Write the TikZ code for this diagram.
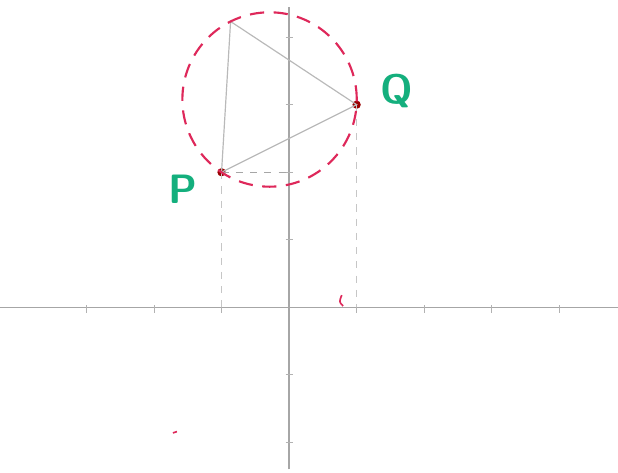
\documentclass[tikz,border=0pt]{standalone}
\usepackage{xcolor}
\usetikzlibrary{calc}

\definecolor{compassred}{RGB}{222,40,90}
\definecolor{labelgreen}{RGB}{20,175,125}

\tikzset{
  axisline/.style={gray!70, line width=0.6pt},
  pencil/.style={gray!55, line width=0.5pt},
  ptdot/.style={circle, fill=red!60!black, inner sep=0pt, minimum size=3.5pt},
  ptlabel/.style={font=\sffamily\bfseries\LARGE, text=labelgreen}
}

\begin{document}
\begin{tikzpicture}
\useasboundingbox (-4.28,-2.45) rectangle (4.87,4.55);

% Axes
\coordinate (O) at (0,0);
\draw[axisline] (-4.28,0) -- (4.87,0);
\draw[axisline] (0,-2.4) -- (0,4.45);
\foreach \x in {-3,-2,-1,1,2,3,4}
  \draw[gray!60] (\x,0.03) -- (\x,-0.09);
\foreach \y in {-2,-1,1,2,3,4}
  \draw[gray!60] (-0.05,\y) -- (0.06,\y);

% Points
\node[ptdot] (P) at (-1,2) {};
\node[ptdot] (Q) at (1,3) {};
\coordinate (R) at (-0.866,4.232);
\coordinate (C) at (-0.289,3.077);

% Triangle
\draw[pencil] (P.center) -- (Q.center) -- (R) -- cycle;

% Projections
\draw[gray!45, dashed, line width=0.4pt] (P.center) -- (P |- O);
\draw[gray!45, dashed, line width=0.4pt] (Q.center) -- (Q |- O);
\draw[gray!70, dashed, line width=0.5pt] (P.center) -- (P -| O);

% Circle
\draw[compassred, line width=0.9pt, dash pattern=on 6pt off 4pt] (C) circle (1.291);

% Compass marks
\draw[compassred, line width=0.7pt] (0.8,0.02) .. controls (0.74,0.08) .. (0.78,0.18);
\draw[compassred, line width=0.7pt] (-1.72,-1.86) -- (-1.66,-1.84);

% Labels
\node[ptlabel] (labP) at (-1.57,1.75) {P};
\node[ptlabel] (labQ) at (1.6,3.2) {Q};

\end{tikzpicture}
\end{document}
